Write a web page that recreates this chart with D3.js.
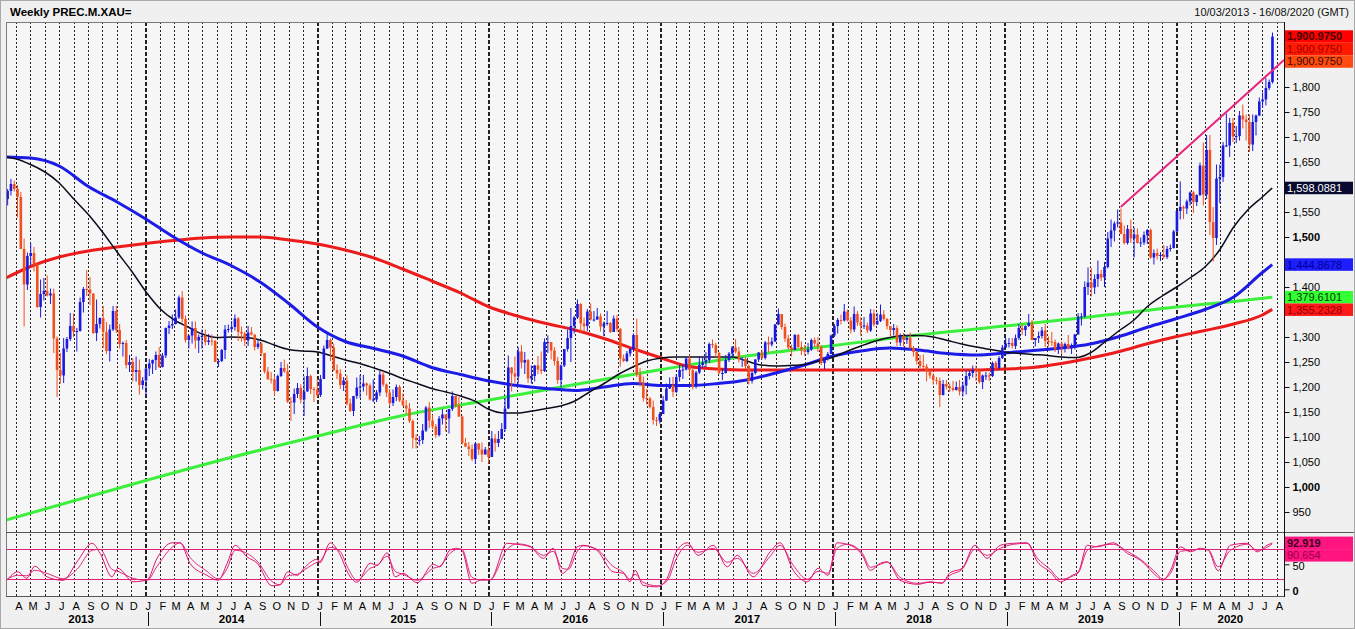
<!DOCTYPE html>
<html>
<head>
<meta charset="utf-8">
<title>Weekly PREC.M.XAU=</title>
<script src="https://cdn.jsdelivr.net/npm/d3@7/dist/d3.min.js"></script>
<style>
  html, body { margin: 0; padding: 0; background: #f0f0f0; overflow: hidden; }
  svg { display: block; font-family: "Liberation Sans", Arial, sans-serif; }
</style>
</head>
<body>
<svg id="chart" width="1355" height="629"></svg>
<script>
// ---------------- DATA ----------------
const titleText = "Weekly PREC.M.XAU=";
const rangeText = "10/03/2013 - 16/08/2020 (GMT)";
const rangeStart = "2013-03-10";
const rangeEnd = "2020-08-16";
const firstWeek = "2013-03-10";
const firstOpen = 1576;

const close2013 = [1592,1606,1596,1580,1476,1405,1462,1468,1445,1360,1386,1392,1383,1387,1297,1234,1223,1277,1296,1322,1311,1312,1370,1396,1395,1387,1308,1326,1338,1310,1272,1315,1352,1314,1286,1288,1244,1250,1230,1234,1204,1213,1237];
const high2013  = [1596,1616,1613,1604,1590,1497,1469,1487,1480,1447,1415,1418,1423,1397,1397,1301,1268,1298,1300,1348,1347,1318,1379,1400,1434,1420,1387,1375,1339,1362,1330,1325,1362,1362,1326,1291,1294,1264,1258,1261,1255,1220,1238];
const low2013   = [1563,1583,1591,1539,1476,1321,1394,1443,1431,1358,1339,1373,1381,1366,1268,1180,1207,1208,1270,1292,1300,1271,1311,1349,1382,1364,1306,1292,1317,1278,1266,1251,1312,1308,1277,1261,1237,1230,1211,1211,1185,1195,1182];

const close2014 = [1247,1254,1264,1240,1263,1318,1323,1326,1339,1379,1336,1294,1303,1318,1293,1300,1302,1290,1293,1292,1250,1252,1274,1315,1316,1320,1337,1310,1307,1293,1309,1305,1280,1287,1268,1231,1216,1215,1192,1222,1238,1231,1171,1169,1186,1198,1175,1191,1222,1196,1195,1184];
const high2014  = [1256,1255,1271,1280,1268,1319,1332,1345,1355,1383,1392,1343,1304,1331,1331,1305,1315,1315,1306,1305,1294,1256,1276,1324,1325,1332,1345,1340,1321,1311,1322,1320,1305,1296,1289,1268,1240,1230,1223,1225,1250,1255,1246,1180,1197,1208,1205,1221,1239,1225,1200,1216];
const low2014   = [1222,1226,1234,1238,1239,1258,1306,1316,1325,1336,1329,1289,1277,1287,1277,1268,1277,1283,1284,1283,1250,1240,1250,1256,1309,1309,1313,1292,1291,1282,1282,1303,1273,1276,1262,1227,1214,1207,1183,1191,1220,1228,1168,1132,1146,1178,1167,1142,1191,1186,1170,1180];

const close2015 = [1216,1277,1294,1279,1234,1227,1204,1213,1167,1152,1182,1199,1201,1207,1203,1175,1175,1189,1225,1205,1189,1168,1180,1200,1173,1163,1157,1132,1098,1094,1094,1113,1159,1133,1121,1104,1137,1145,1137,1156,1182,1163,1141,1088,1081,1076,1056,1087,1075,1065,1075,1060];
const high2015  = [1224,1283,1307,1297,1287,1245,1236,1220,1223,1177,1182,1219,1224,1224,1209,1207,1215,1194,1232,1232,1207,1196,1195,1205,1204,1187,1174,1168,1135,1105,1102,1126,1162,1170,1144,1126,1142,1156,1145,1156,1191,1178,1180,1143,1098,1090,1085,1088,1088,1089,1080,1082];
const low2015   = [1180,1216,1276,1252,1232,1216,1196,1192,1163,1150,1142,1176,1178,1191,1183,1173,1170,1170,1182,1201,1180,1162,1162,1172,1170,1162,1147,1128,1077,1077,1083,1086,1110,1118,1116,1098,1101,1125,1111,1107,1152,1159,1140,1085,1080,1062,1052,1046,1064,1050,1065,1047];

const close2016 = [1097,1088,1096,1116,1157,1239,1227,1221,1271,1249,1254,1217,1222,1243,1235,1232,1290,1290,1273,1252,1214,1243,1276,1298,1322,1339,1366,1327,1322,1351,1335,1335,1341,1321,1327,1328,1310,1337,1316,1257,1252,1267,1276,1304,1225,1209,1178,1177,1160,1134,1133,1146];
const high2016  = [1112,1106,1112,1128,1178,1263,1240,1261,1280,1284,1270,1256,1243,1244,1262,1271,1297,1303,1284,1280,1260,1245,1276,1315,1358,1342,1375,1368,1339,1356,1367,1352,1358,1347,1331,1352,1330,1343,1344,1318,1265,1272,1279,1307,1337,1238,1221,1196,1180,1173,1140,1150];
const low2016   = [1061,1071,1080,1096,1111,1156,1191,1208,1207,1237,1226,1208,1207,1211,1226,1226,1230,1268,1255,1243,1206,1199,1240,1271,1250,1307,1336,1310,1310,1312,1333,1331,1334,1311,1302,1323,1308,1310,1311,1241,1250,1250,1261,1271,1220,1201,1171,1165,1157,1125,1122,1127];

const close2017 = [1173,1197,1204,1190,1220,1234,1235,1257,1234,1201,1229,1244,1249,1254,1286,1284,1268,1228,1228,1254,1267,1279,1271,1255,1256,1242,1212,1228,1255,1269,1258,1289,1285,1291,1325,1346,1320,1297,1279,1274,1304,1280,1273,1270,1275,1294,1287,1281,1248,1256,1266,1303,1322];
const high2017  = [1182,1207,1219,1220,1226,1244,1245,1260,1264,1237,1232,1261,1259,1270,1289,1295,1288,1270,1237,1264,1270,1282,1296,1280,1260,1260,1245,1232,1256,1270,1275,1292,1301,1299,1326,1357,1346,1327,1304,1285,1306,1306,1291,1284,1288,1297,1299,1300,1283,1259,1270,1305,1326];
const low2017   = [1146,1172,1196,1180,1188,1211,1216,1233,1225,1195,1197,1226,1238,1240,1248,1278,1260,1226,1214,1227,1250,1259,1267,1249,1240,1236,1205,1207,1225,1250,1255,1255,1269,1281,1290,1324,1315,1290,1275,1261,1274,1278,1264,1262,1265,1272,1280,1270,1244,1236,1253,1266,1300];

const close2018 = [1334,1333,1351,1333,1315,1346,1329,1323,1323,1313,1347,1325,1332,1345,1336,1322,1314,1318,1289,1302,1294,1298,1278,1270,1252,1242,1241,1231,1223,1214,1212,1184,1206,1201,1198,1194,1200,1191,1203,1222,1228,1234,1232,1210,1223,1223,1222,1248,1238,1258,1279,1287];
const high2018  = [1338,1345,1366,1355,1340,1361,1352,1340,1340,1329,1356,1355,1348,1365,1354,1338,1320,1326,1323,1307,1308,1304,1309,1282,1272,1264,1265,1246,1236,1227,1220,1219,1214,1214,1207,1212,1211,1214,1211,1233,1233,1243,1243,1237,1225,1230,1229,1251,1252,1262,1284,1298];
const low2018   = [1307,1325,1331,1331,1307,1310,1322,1303,1316,1308,1310,1321,1325,1330,1333,1315,1302,1303,1282,1282,1281,1286,1275,1261,1245,1238,1236,1211,1217,1205,1205,1160,1183,1195,1190,1191,1193,1183,1181,1185,1215,1219,1212,1207,1196,1214,1212,1220,1234,1235,1256,1278];

const close2019 = [1288,1282,1298,1318,1314,1322,1328,1294,1298,1302,1313,1292,1291,1290,1276,1287,1281,1286,1277,1283,1305,1341,1341,1400,1409,1399,1416,1426,1419,1440,1497,1513,1527,1529,1506,1488,1516,1497,1505,1488,1489,1504,1514,1459,1468,1462,1464,1460,1476,1478,1511,1552];
const high2019  = [1298,1298,1305,1326,1326,1323,1346,1334,1298,1311,1320,1326,1301,1310,1295,1289,1291,1289,1304,1287,1306,1348,1348,1411,1439,1438,1425,1453,1434,1450,1510,1535,1531,1555,1557,1523,1524,1535,1519,1517,1499,1511,1516,1517,1475,1477,1470,1484,1482,1485,1514,1553];
const low2019   = [1279,1277,1276,1294,1304,1302,1320,1294,1281,1288,1297,1280,1281,1282,1270,1266,1266,1269,1275,1266,1275,1305,1323,1339,1384,1381,1386,1400,1412,1400,1437,1480,1491,1519,1506,1485,1485,1488,1459,1487,1480,1484,1486,1456,1445,1455,1452,1456,1456,1471,1477,1509];

const close2020 = [1560,1557,1571,1589,1570,1584,1643,1585,1674,1530,1498,1617,1620,1683,1683,1728,1701,1702,1743,1735,1730,1685,1730,1743,1771,1775,1798,1810,1900.975];
const high2020  = [1611,1563,1575,1591,1592,1585,1649,1689,1704,1704,1560,1645,1645,1690,1747,1738,1738,1722,1752,1765,1745,1745,1745,1745,1779,1789,1818,1815,1909];
const low2020   = [1535,1536,1546,1563,1548,1562,1582,1563,1576,1504,1451,1484,1568,1610,1680,1660,1690,1688,1693,1717,1693,1670,1672,1703,1742,1758,1763,1794,1807];

// moving averages (sampled read-offs)
const maDates = ["2013-03-10","2013-05-01","2013-07-01","2013-09-01","2013-11-01",
  "2014-01-01","2014-03-01","2014-05-01","2014-07-01","2014-09-01","2014-11-01",
  "2015-01-01","2015-03-01","2015-05-01","2015-07-01","2015-09-01","2015-11-01",
  "2016-01-01","2016-03-01","2016-05-01","2016-07-01","2016-09-01","2016-11-01",
  "2017-01-01","2017-03-01","2017-05-01","2017-07-01","2017-09-01","2017-11-01",
  "2018-01-01","2018-03-01","2018-05-01","2018-07-01","2018-09-01","2018-11-01",
  "2019-01-01","2019-03-01","2019-05-01","2019-07-01","2019-09-01","2019-11-01",
  "2020-01-01","2020-03-01","2020-05-01","2020-07-01","2020-07-22"];
const maBlue = [1660,1658,1642,1601,1570, 1536,1500,1468,1443,1410,1367, 1320,1291,1277,1262,1239,1225,
  1212,1203,1197,1193,1200,1207, 1203,1203,1207,1214,1228,1244, 1262,1272,1278,1274,1267,1264,
  1268,1273,1278,1286,1301,1320, 1337,1355,1380,1429,1444.8678];
const maRed = [1418,1441,1460,1472,1480, 1487,1493,1498,1500,1500,1494, 1486,1474,1458,1436,1412,1388,
  1360,1342,1327,1314,1297,1277, 1258,1241,1236,1234,1234,1234, 1234,1234,1234,1234,1234,1234,
  1236,1239,1247,1258,1271,1287, 1301,1313,1326,1344,1355.2328];
const blackFirstMonth = "2013-04-01";
const blackStart = ["2013-03-10", 1660];
const blackMonthly = [1656,1645,1630,1608,1576,1545,1510,1470,1433,
  1391,1356,1335,1320,1306,1299,1300,1299,1294,1284,1275,1272,
  1270,1262,1254,1247,1238,1228,1217,1207,1197,1190,1182,1172,
  1155,1148,1148,1152,1157,1162,1172,1190,1207,1225,1240,1252,
  1258,1260,1260,1260,1260,1260,1252,1244,1242,1243,1245,1252,
  1260,1272,1282,1292,1299,1303,1303,1300,1293,1286,1280,1275,
  1270,1267,1265,1263,1260,1259,1268,1290,1313,1333,1362,1382,
  1400,1420,1440,1474,1520,1555,1580];
const blackEnd = ["2020-07-22", 1598.0881];
const greenDates = ["2013-03-10","2014-01-01","2014-07-01","2015-01-01","2015-07-01","2016-01-01","2016-07-01","2017-01-01","2017-07-01","2018-01-01","2018-07-01","2019-01-01","2019-07-01","2020-01-01","2020-05-01","2020-07-22"];
const greenValues = [934,1013,1059,1102,1143,1174,1205,1235,1262,1283,1304,1322,1340,1360,1371,1379.6101];
const trendDates = ["2019-09-04","2020-08-16"];
const trendValues = [1560,1854];

// stochastic (%K and %D) read-offs
const stochDates = ["2013-03-12","2013-04-04","2013-04-23","2013-05-10","2013-06-05","2013-07-09","2013-08-08","2013-09-09","2013-09-26","2013-10-21","2013-11-03","2013-12-05",
"2014-01-04","2014-01-25","2014-02-26","2014-03-15","2014-04-05","2014-05-11","2014-06-04","2014-06-23","2014-07-10","2014-08-04","2014-08-26","2014-09-26","2014-10-13","2014-10-30","2014-11-19","2014-12-06","2014-12-31",
"2015-01-06","2015-01-28","2015-02-18","2015-03-07","2015-03-26","2015-04-23","2015-05-08","2015-05-29","2015-06-15","2015-07-02","2015-08-01","2015-09-04","2015-09-18","2015-10-10","2015-10-25","2015-11-04","2015-11-25","2015-12-19",
"2016-01-03","2016-02-08","2016-02-29","2016-03-28","2016-04-25","2016-05-16","2016-06-04","2016-06-17","2016-07-06","2016-07-19","2016-08-17","2016-09-20","2016-10-12","2016-10-26","2016-11-06","2016-11-23","2016-12-23",
"2017-01-13","2017-02-03","2017-02-25","2017-03-20","2017-04-21","2017-05-21","2017-06-11","2017-07-15","2017-08-20","2017-09-10","2017-10-08","2017-11-07","2017-11-30","2017-12-21",
"2018-01-09","2018-01-31","2018-03-04","2018-03-21","2018-04-11","2018-04-26","2018-05-23","2018-06-30","2018-07-26","2018-08-20","2018-09-06","2018-10-02","2018-10-29","2018-11-24","2018-12-22",
"2019-01-19","2019-02-17","2019-03-11","2019-04-07","2019-04-29","2019-05-24","2019-06-06","2019-06-25","2019-07-16","2019-08-19","2019-09-18","2019-10-16","2019-11-21","2019-12-02","2019-12-19",
"2020-01-09","2020-01-30","2020-02-20","2020-03-08","2020-03-29","2020-04-24","2020-05-30","2020-06-20","2020-07-11","2020-07-22"];
const stochK = [18,35,22,46,25,18,55,92,72,25,42,15,
19,62,93,93,52,28,18,52,88,65,52,7,9,35,28,45,60,
53,93,69,32,14,52,48,73,25,32,13,50,45,79,82,78,12,20,
19,92,90,85,62,82,32,42,85,88,78,35,32,15,38,8,5,
22,78,93,68,88,45,68,25,75,93,38,15,42,28,
93,90,68,38,52,55,18,10,15,12,33,42,88,62,88,
92,93,55,35,15,28,35,88,85,93,72,58,25,18,38,
85,75,82,78,37,88,92,75,88,92.919];
const stochD = [20,28,27,38,32,21,40,78,80,40,36,22,
18,46,84,93,64,36,21,42,78,72,56,16,9,27,30,40,54,
56,84,76,42,18,42,48,66,36,30,18,42,46,72,80,80,24,18,
19,80,91,86,68,76,42,40,76,87,80,46,34,20,30,14,7,
17,64,88,74,82,54,62,32,66,88,48,20,36,32,
82,90,72,44,50,54,24,12,14,13,28,40,80,68,82,
90,92,62,40,20,26,33,78,86,90,76,60,30,20,32,
76,78,80,79,45,78,90,78,84,90.654];
const stochLevels = [20, 80];

const priceTicks = d3.range(950, 1901, 50);
const stochTicks = [0, 50];
const monthLetters = "JFMAMJJASOND";

// ---------------- LAYOUT ----------------
const W = 1355, H = 629;
const L = 6, R = 1284, T = 22, MID = 532, B = 596;
const FONT = "Liberation Sans, Arial, sans-serif";
const svg = d3.select("#chart");
const parse = d3.utcParse("%Y-%m-%d");

svg.append("rect").attr("width", W).attr("height", H).attr("fill", "#f0f0f0");
svg.append("rect").attr("x", 0.5).attr("y", 0.5).attr("width", W - 1).attr("height", H - 1)
  .attr("fill", "none").attr("stroke", "#a8a8a8");
svg.append("rect").attr("x", L).attr("y", T).attr("width", R - L).attr("height", B - T).attr("fill", "#f6f6f6");

const x = d3.scaleUtc().domain([parse(rangeStart), parse(rangeEnd)]).range([L, R]);
const y = d3.scaleLinear().domain([910, 1930]).range([MID, T]);
const ys = d3.scaleLinear().domain([-13.4, 114.6]).range([B, MID]);

const defs = svg.append("defs");
defs.append("clipPath").attr("id", "clipMain").append("rect").attr("x", L).attr("y", T).attr("width", R - L).attr("height", MID - T);
defs.append("clipPath").attr("id", "clipStoch").append("rect").attr("x", L).attr("y", MID).attr("width", R - L).attr("height", B - MID);

// month grid
const months = d3.utcMonth.range(d3.utcMonth.ceil(parse(rangeStart)), parse(rangeEnd));
svg.append("g").selectAll("line").data(months).join("line")
  .attr("x1", d => d.getUTCMonth() === 0 ? Math.round(x(d)) : Math.round(x(d)) + 0.5)
  .attr("x2", d => d.getUTCMonth() === 0 ? Math.round(x(d)) : Math.round(x(d)) + 0.5)
  .attr("y1", T).attr("y2", B)
  .attr("stroke", "#222")
  .attr("stroke-width", d => d.getUTCMonth() === 0 ? 2 : 1)
  .attr("stroke-dasharray", d => d.getUTCMonth() === 0 ? "4,2" : "2,2");

// MA lines
const main = svg.append("g").attr("clip-path", "url(#clipMain)");
const line = d3.line().x(d => x(d[0])).y(d => y(d[1])).curve(d3.curveMonotoneX);

const greenPts = greenDates.map((d, i) => [parse(d), greenValues[i]]);
const redPts = maDates.map((d, i) => [parse(d), maRed[i]]);
const bluePts = maDates.map((d, i) => [parse(d), maBlue[i]]);
const blackPts = [[parse(blackStart[0]), blackStart[1]]]
  .concat(blackMonthly.map((v, i) => [d3.utcMonth.offset(parse(blackFirstMonth), i), v]))
  .concat([[parse(blackEnd[0]), blackEnd[1]]]);

main.append("path").attr("d", line(greenPts)).attr("fill", "none").attr("stroke", "#3def3d").attr("stroke-width", 3);
main.append("path").attr("d", line(redPts)).attr("fill", "none").attr("stroke", "#ec1c1c").attr("stroke-width", 3);
main.append("path").attr("d", line(bluePts)).attr("fill", "none").attr("stroke", "#1c1ce6").attr("stroke-width", 3);
main.append("path").attr("d", line(blackPts)).attr("fill", "none").attr("stroke", "#0c0c1e").attr("stroke-width", 1.5);

// candles
const closes = [].concat(close2013, close2014, close2015, close2016, close2017, close2018, close2019, close2020);
const highs = [].concat(high2013, high2014, high2015, high2016, high2017, high2018, high2019, high2020);
const lows = [].concat(low2013, low2014, low2015, low2016, low2017, low2018, low2019, low2020);
const candles = closes.map((c, i) => {
  const o = i === 0 ? firstOpen : closes[i - 1];
  return { date: d3.utcDay.offset(parse(firstWeek), 7 * i), o, c,
           h: Math.max(highs[i], o, c), l: Math.min(lows[i], o, c) };
});
const cx = d => x(d3.utcHour.offset(d.date, 84));
const UP = "#1a1ae0", DOWN = "#f2501e";
const cg = main.append("g");
cg.selectAll("line").data(candles).join("line")
  .attr("x1", cx).attr("x2", cx)
  .attr("y1", d => y(d.h)).attr("y2", d => y(d.l))
  .attr("stroke", d => d.c >= d.o ? UP : DOWN).attr("stroke-width", 1);
cg.selectAll("rect").data(candles).join("rect")
  .attr("x", d => cx(d) - 1.3).attr("width", 2.6)
  .attr("y", d => y(Math.max(d.o, d.c)))
  .attr("height", d => Math.max(1, Math.abs(y(d.o) - y(d.c))))
  .attr("fill", d => d.c >= d.o ? UP : DOWN);

// trend line
main.append("path")
  .attr("d", d3.line().x(d => x(d[0])).y(d => y(d[1]))(trendDates.map((d, i) => [parse(d), trendValues[i]])))
  .attr("fill", "none").attr("stroke", "#e8247c").attr("stroke-width", 2);

// stochastic
const st = svg.append("g").attr("clip-path", "url(#clipStoch)");
st.selectAll("line.lvl").data(stochLevels).join("line").attr("class", "lvl")
  .attr("x1", L).attr("x2", R).attr("y1", d => Math.round(ys(d)) + 0.5).attr("y2", d => Math.round(ys(d)) + 0.5)
  .attr("stroke", "#e0207a").attr("stroke-width", 1);
const sline = d3.line().x(d => x(d[0])).y(d => ys(d[1])).curve(d3.curveMonotoneX);
st.append("path").attr("d", sline(stochDates.map((d, i) => [parse(d), stochD[i]])))
  .attr("fill", "none").attr("stroke", "#e2277f").attr("stroke-width", 1);
st.append("path").attr("d", sline(stochDates.map((d, i) => [parse(d), stochK[i]])))
  .attr("fill", "none").attr("stroke", "#e0146f").attr("stroke-width", 1);

// frame lines
svg.append("line").attr("x1", L + 0.5).attr("x2", L + 0.5).attr("y1", T).attr("y2", B).attr("stroke", "#7a7a7a");
svg.append("line").attr("x1", L).attr("x2", R).attr("y1", T + 0.5).attr("y2", T + 0.5).attr("stroke", "#7a7a7a");
svg.append("line").attr("x1", L).attr("x2", R).attr("y1", B + 0.5).attr("y2", B + 0.5).attr("stroke", "#555");
svg.append("line").attr("x1", L).attr("x2", W - 1).attr("y1", MID + 0.5).attr("y2", MID + 0.5).attr("stroke", "#555");
svg.append("line").attr("x1", R + 0.5).attr("x2", R + 0.5).attr("y1", T).attr("y2", B + 1).attr("stroke", "#111");

// ---- value tags: lay out first so covered tick labels can be skipped ----
const fmt4 = d3.format(",.4f"), fmt3 = d3.format(".3f");
const TAG_H = 12.5;
function layoutTags(list, scale) {
  let prevBottom = -Infinity;
  return list.map(t => {
    let c = scale(t.v);
    if (c - TAG_H / 2 < prevBottom) c = prevBottom + TAG_H / 2;
    prevBottom = c + TAG_H / 2;
    return Object.assign({}, t, { cy: c });
  });
}
const lastClose = closes[closes.length - 1];
const tagList = [].concat(
  layoutTags([
    { v: lastClose, label: fmt4(lastClose), fill: "#ff0000", color: "#4a0000", bold: true },
    { v: lastClose, label: fmt4(lastClose), fill: "#ff1a00", color: "#a00000" },
    { v: lastClose, label: fmt4(lastClose), fill: "#ff4a10", color: "#3a0a00" }
  ], y),
  layoutTags([{ v: blackEnd[1], label: fmt4(blackEnd[1]), fill: "#0a0a30", color: "#ffffff" }], y),
  layoutTags([{ v: maBlue[maBlue.length - 1], label: fmt4(maBlue[maBlue.length - 1]), fill: "#1e1eff", color: "#000090" }], y),
  layoutTags([
    { v: greenValues[greenValues.length - 1], label: fmt4(greenValues[greenValues.length - 1]), fill: "#33ff33", color: "#004000" },
    { v: maRed[maRed.length - 1], label: fmt4(maRed[maRed.length - 1]), fill: "#ff1a1a", color: "#8a0000" }
  ], y),
  layoutTags([
    { v: stochK[stochK.length - 1], label: fmt3(stochK[stochK.length - 1]), fill: "#ff1480", color: "#3a0020", bold: true },
    { v: stochD[stochD.length - 1], label: fmt3(stochD[stochD.length - 1]), fill: "#ff1480", color: "#9a0048" }
  ], ys)
);
const coveredByTag = py => tagList.some(t => py + 3.5 > t.cy - TAG_H / 2 && py - 3.5 < t.cy + TAG_H / 2);

// right price axis
const ay = svg.append("g").attr("transform", `translate(${R + 0.5},0)`)
  .call(d3.axisRight(y).tickValues(priceTicks).tickSize(5).tickPadding(3).tickFormat(d3.format(",")));
ay.select(".domain").remove();
ay.selectAll("line").attr("stroke", "#111");
ay.selectAll("text").attr("font-size", 11).attr("font-family", FONT).attr("fill", "#000")
  .attr("font-weight", d => d % 500 === 0 ? "bold" : "normal");
ay.selectAll(".tick").filter(d => coveredByTag(y(d))).select("text").remove();

const as = svg.append("g").attr("transform", `translate(${R + 0.5},0)`)
  .call(d3.axisRight(ys).tickValues(stochTicks).tickSize(5).tickPadding(3));
as.select(".domain").remove();
as.selectAll("line").attr("stroke", "#111");
as.selectAll("text").attr("font-size", 11).attr("font-family", FONT).attr("fill", "#000")
  .attr("font-weight", d => d === 0 ? "bold" : "normal").attr("dy", "0.45em");

// bottom month axis
const ax = svg.append("g").attr("transform", `translate(2,${B})`)
  .call(d3.axisBottom(x).tickValues(months).tickSize(0).tickPadding(6)
    .tickFormat(d => monthLetters[d.getUTCMonth()]));
ax.select(".domain").remove();
ax.selectAll("text").attr("font-size", 11).attr("font-family", FONT).attr("fill", "#000");

// years
const years = d3.range(2013, 2021);
const yStart = yr => d3.max([parse(yr + "-01-01"), months[0]]);
const yEnd = yr => d3.min([parse((yr + 1) + "-01-01"), parse(rangeEnd)]);
svg.append("g").selectAll("text").data(years).join("text")
  .attr("x", yr => (x(yStart(yr)) + x(yEnd(yr))) / 2)
  .attr("y", 623).attr("text-anchor", "middle")
  .attr("font-size", 11.5).attr("font-weight", "bold").attr("font-family", FONT).attr("fill", "#000")
  .text(yr => yr);
svg.append("g").selectAll("line").data(years.slice(1)).join("line")
  .attr("x1", yr => Math.round(x(parse(yr + "-01-01"))) + 2.5)
  .attr("x2", yr => Math.round(x(parse(yr + "-01-01"))) + 2.5)
  .attr("y1", 612).attr("y2", 626).attr("stroke", "#111");

// title texts
svg.append("text").attr("x", 10).attr("y", 16).attr("font-size", 11.5).attr("font-weight", "bold")
  .attr("font-family", FONT).attr("fill", "#000").text(titleText);
svg.append("text").attr("x", 1349).attr("y", 16).attr("font-size", 11).attr("text-anchor", "end")
  .attr("font-family", FONT).attr("fill", "#111").text(rangeText);

// draw value tags
const tg = svg.append("g");
tagList.forEach(t => {
  tg.append("rect").attr("x", R + 1).attr("y", t.cy - TAG_H / 2).attr("width", 68).attr("height", TAG_H).attr("fill", t.fill);
  tg.append("text").attr("x", R + 3).attr("y", t.cy).attr("dy", "0.36em")
    .attr("font-size", 11).attr("font-family", FONT).attr("font-weight", t.bold ? "bold" : "normal")
    .attr("fill", t.color).text(t.label);
});
</script>
</body>
</html>
